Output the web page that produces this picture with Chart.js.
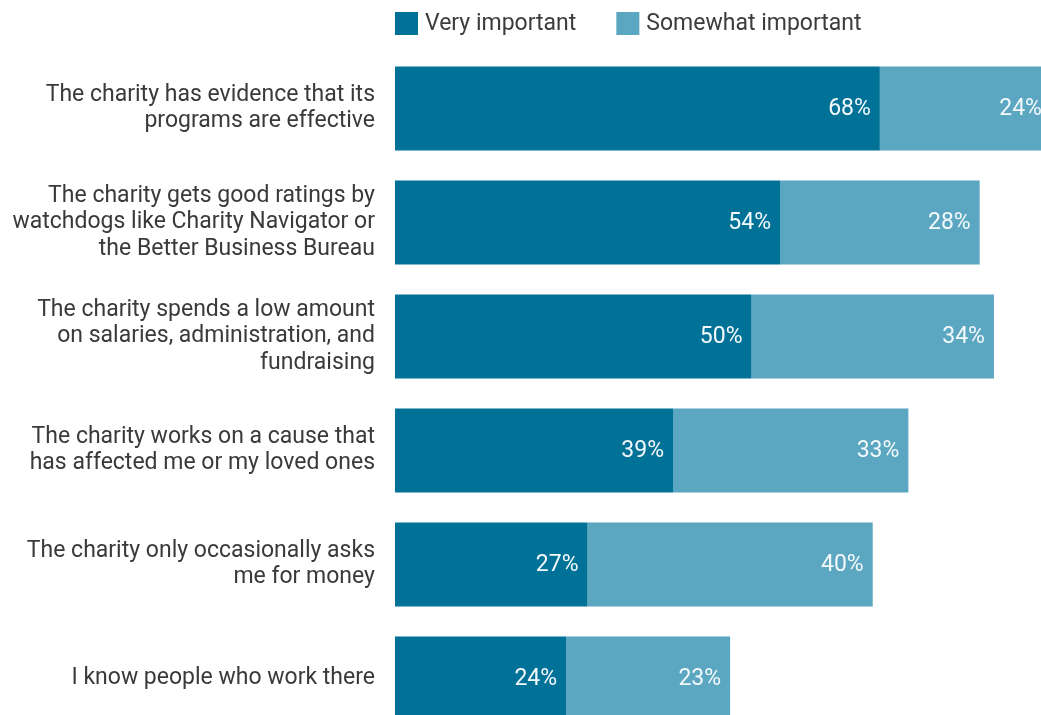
<!DOCTYPE html>
<html>
<head>
<meta charset="utf-8">
<script src="https://cdn.jsdelivr.net/npm/chart.js@4.4.1/dist/chart.umd.min.js"></script>
<style>
  html, body { margin: 0; padding: 0; background: #fff; overflow: hidden; }
  #wrap { position: absolute; left: 0; top: 0; width: 1110px; height: 740px; }
</style>
</head>
<body>
<div id="wrap"><canvas id="chart"></canvas></div>
<script>
const FONT = "Roboto, 'Liberation Sans', sans-serif";

const reasons = [
  ['The charity has evidence that its', 'programs are effective'],
  ['The charity gets good ratings by', 'watchdogs like Charity Navigator or', 'the Better Business Bureau'],
  ['The charity spends a low amount', 'on salaries, administration, and', 'fundraising'],
  ['The charity works on a cause that', 'has affected me or my loved ones'],
  ['The charity only occasionally asks', 'me for money'],
  ['I know people who work there']
];
const veryImportant = [68, 54, 50, 39, 27, 24];
const somewhatImportant = [24, 28, 34, 33, 40, 23];

// value labels inside the right end of each segment
const valueLabels = {
  id: 'valueLabels',
  afterDatasetsDraw(chart) {
    const ctx = chart.ctx;
    ctx.save();
    ctx.font = '23px ' + FONT;
    ctx.fillStyle = '#f4f9fb';
    ctx.textAlign = 'right';
    ctx.textBaseline = 'middle';
    chart.data.datasets.forEach((ds, i) => {
      chart.getDatasetMeta(i).data.forEach((bar, j) => {
        ctx.fillText(ds.data[j] + '%', bar.x - 9, bar.y + 1);
      });
    });
    ctx.restore();
  }
};

// legend row above the bars, starting at the plot's left edge
const topLegend = {
  id: 'topLegend',
  afterDraw(chart) {
    const ctx = chart.ctx;
    ctx.save();
    ctx.font = '23px ' + FONT;
    ctx.textBaseline = 'middle';
    let x = chart.chartArea.left;
    chart.data.datasets.forEach(ds => {
      ctx.fillStyle = ds.backgroundColor;
      ctx.fillRect(x, 12, 23, 23);
      ctx.fillStyle = '#3c3c3c';
      ctx.textAlign = 'left';
      ctx.fillText(ds.label, x + 30, 24);
      x += 30 + ctx.measureText(ds.label).width + 40;
    });
    ctx.restore();
  }
};

new Chart(document.getElementById('chart'), {
  type: 'bar',
  data: {
    labels: reasons,
    datasets: [
      { label: 'Very important', data: veryImportant, backgroundColor: '#007298' },
      { label: 'Somewhat important', data: somewhatImportant, backgroundColor: '#5ba6c0' }
    ]
  },
  options: {
    indexAxis: 'y',
    responsive: true,
    maintainAspectRatio: false,
    animation: false,
    layout: { padding: { top: 51.5, bottom: 4.5, right: 2, left: 0 } },
    datasets: { bar: { categoryPercentage: 1, barPercentage: 0.737 } },
    scales: {
      x: { stacked: true, min: 0, max: 100, display: false },
      y: {
        stacked: true,
        grid: { display: false, drawTicks: false },
        border: { display: false },
        afterFit: s => {
          s.width = 395;
          s.paddingTop = 0;
          s.paddingBottom = 0;
        },
        ticks: {
          padding: 20,
          color: '#3a3a3a',
          font: { family: FONT, size: 23, lineHeight: 1.15 }
        }
      }
    },
    plugins: { legend: { display: false }, tooltip: { enabled: false } }
  },
  plugins: [valueLabels, topLegend]
});
</script>
</body>
</html>
